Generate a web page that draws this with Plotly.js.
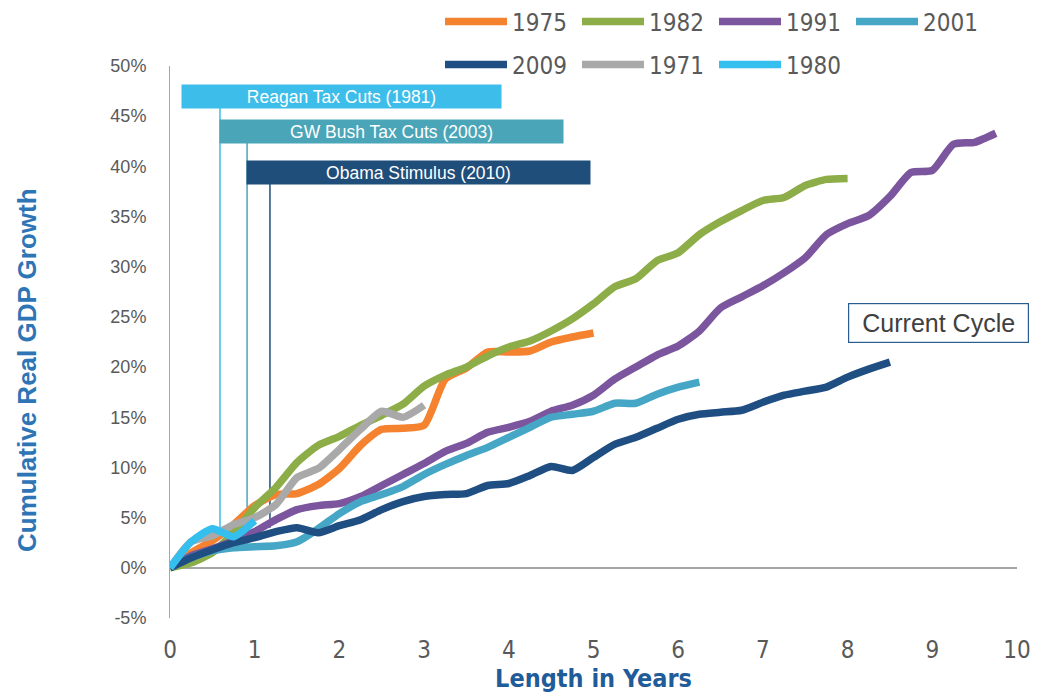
<!DOCTYPE html>
<html><head><meta charset="utf-8">
<script src="https://cdn.plot.ly/plotly-3.0.1.min.js"></script>
<style>html,body{margin:0;padding:0;background:#fff;}#chart{width:1051px;height:695px;}</style>
</head><body><div id="chart"></div>
<script>
// Years since the start of each expansion (quarterly)
const quarters = [0,0.25,0.5,0.75,1,1.25,1.5,1.75,2,2.25,2.5,2.75,3,3.25,3.5,3.75,4,4.25,4.5,4.75,5,5.25,5.5,5.75,6,6.25,6.5,6.75,7,7.25,7.5,7.75,8,8.25,8.5,8.75,9,9.25,9.5,9.75];
const seriesNames = ['1975','1982','1991','2001','2009','1971','1980'];
// Cumulative real GDP growth, %
const gdp1975 = [0,1.5,2.7,4.3,6.2,7.3,7.4,8.3,9.9,12.2,13.8,13.9,14.2,18.8,19.9,21.5,21.5,21.6,22.5,23.0,23.4];
const gdp1982 = [0,0.5,1.5,3.5,6.0,8.0,10.5,12.2,13.1,14.2,15.2,16.3,18.1,19.2,20.0,21.1,22.0,22.6,23.6,24.8,26.3,28.0,28.8,30.6,31.4,33.2,34.5,35.6,36.6,36.9,38.1,38.7,38.8];
const gdp1991 = [0,1.2,1.9,2.7,3.6,4.8,5.8,6.2,6.4,7.1,8.2,9.3,10.4,11.6,12.4,13.5,14.0,14.6,15.6,16.2,17.2,18.8,20.0,21.2,22.1,23.6,25.9,27.0,28.1,29.4,30.9,33.2,34.3,35.1,37.0,39.4,39.6,42.2,42.4,43.3];
const gdp2001 = [0,1.0,1.7,2.0,2.1,2.2,2.6,3.9,5.4,6.6,7.3,8.1,9.3,10.3,11.2,12.0,13.0,14.0,15.0,15.3,15.6,16.4,16.4,17.3,18.0,18.5];
const gdp2009 = [0,1.0,1.8,2.5,3.0,3.6,4.0,3.5,4.2,4.8,5.8,6.6,7.1,7.3,7.4,8.2,8.4,9.2,10.1,9.7,11.0,12.3,13.0,13.9,14.8,15.3,15.5,15.7,16.5,17.2,17.6,18.0,19.0,19.8,20.5];
const gdp1971 = [0,2.6,3.2,4.3,5.0,6.3,9.0,9.9,11.8,13.8,15.6,15.0,16.2];
const gdp1980 = [0,2.6,3.9,3.1,4.7];
const yTickVals = [-5,0,5,10,15,20,25,30,35,40,45,50];
const yTickLabels = ['-5%','0%','5%','10%','15%','20%','25%','30%','35%','40%','45%','50%'];
const xTickVals = [0,1,2,3,4,5,6,7,8,9,10];
// Policy events: label, year offset where the marker line sits, and line bottom
const policyLabels = ['Reagan Tax Cuts (1981)','GW Bush Tax Cuts (2003)','Obama Stimulus (2010)'];
const policyX = [0.59, 0.91, 1.18];
const policyLineEnd = [3.6, 2.3, 4.0];

const colors = ['#f4822f','#8cad47','#7b559d','#46a6c6','#1f4e82','#a9a9a9','#35bfee'];
const policyColors = ['#3dbde9','#4ba5b8','#1f4e7a'];
const NARROW = '"Liberation Sans Narrow","DejaVu Sans Condensed",Arial,sans-serif';
const ARIAL = '"Liberation Sans",Arial,sans-serif';

const allData = [gdp1975,gdp1982,gdp1991,gdp2001,gdp2009,gdp1971,gdp1980];
const traces = allData.map((vals,i)=>({
  type:'scatter', mode:'lines', name:seriesNames[i],
  x: quarters.slice(0, vals.length), y: vals,
  line:{color:colors[i], width:7.5, shape:'spline', smoothing:0.6},
  legend: i<4 ? 'legend' : 'legend2',
  hoverinfo:'skip'
}));

const boxGeom = [ {cx:2.03, cy:47.0, w:319}, {cx:2.615, cy:43.5, w:343}, {cx:2.93, cy:39.4, w:343} ];
const annotations = policyLabels.map((t,i)=>({
  xref:'x', yref:'y', x:boxGeom[i].cx, y:boxGeom[i].cy, text:t, showarrow:false,
  width:boxGeom[i].w, height:23, bgcolor:policyColors[i], borderpad:0,
  font:{family:ARIAL, size:17.5, color:'#ffffff'}, align:'center'
}));
annotations.push({xref:'x', yref:'y', x:9.07, y:24.4, text:'Current Cycle', showarrow:false,
  width:171, height:30, align:'center',
  font:{family:ARIAL, size:25, color:'#404040'}, bgcolor:'#ffffff', bordercolor:'#2a5d8f', borderwidth:1.2, borderpad:4});
annotations.push({xref:'paper', yref:'paper', x:-0.169, y:0.449, xanchor:'center', yanchor:'middle', textangle:-90,
  text:'<b>Cumulative Real GDP Growth</b>', showarrow:false, font:{family:ARIAL, size:26, color:'#2e75b6'}});

const shapes = policyX.map((px,i)=>({
  type:'line', xref:'x', yref:'y', x0:px, x1:px, y0:boxGeom[i].cy-1.15, y1:policyLineEnd[i],
  line:{color:policyColors[i], width:1.5}, layer:'below'
}));

const legendCommon = {orientation:'h', xref:'container', yref:'container', xanchor:'left', yanchor:'middle',
  font:{family:NARROW, size:24, color:'#595959'}, itemwidth:62, entrywidth:60, bgcolor:'rgba(0,0,0,0)', borderwidth:0, tracegroupgap:0};

const layout = {
  width:1051, height:695,
  margin:{l:170, r:34, t:66, b:77, autoexpand:false},
  paper_bgcolor:'#ffffff', plot_bgcolor:'#ffffff',
  showlegend:true,
  xaxis:{range:[0,10], tickvals:xTickVals, showgrid:false, zeroline:false, showline:false,
    ticks:'outside', ticklen:10, tickcolor:'rgba(0,0,0,0)',
    tickfont:{family:NARROW, size:24, color:'#595959'},
    title:{text:'<b>Length in Years</b>', font:{family:NARROW, size:25, color:'#1f5c99'}, standoff:4}},
  yaxis:{range:[-5,50], tickvals:yTickVals, ticktext:yTickLabels, showgrid:false,
    zeroline:true, zerolinecolor:'#a6a6a6', zerolinewidth:1.5,
    showline:true, linecolor:'#a6a6a6', linewidth:1,
    ticks:'outside', ticklen:19, tickcolor:'rgba(0,0,0,0)',
    tickfont:{family:ARIAL, size:18, color:'#595959'}},
  legend:Object.assign({}, legendCommon, {x:440/1051, y:1-22/695}),
  legend2:Object.assign({}, legendCommon, {x:440/1051, y:1-65/695}),
  annotations:annotations, shapes:shapes
};
Plotly.newPlot('chart', traces, layout, {displayModeBar:false, staticPlot:true});
</script></body></html>
